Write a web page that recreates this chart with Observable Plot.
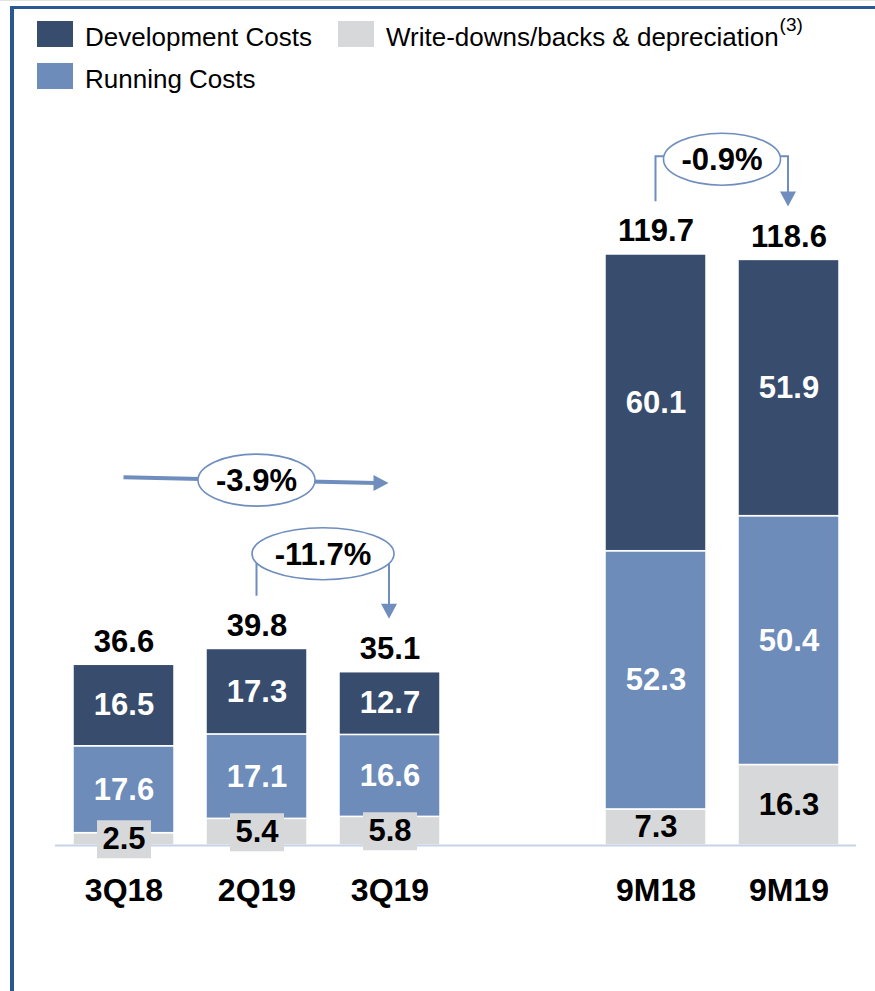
<!DOCTYPE html>
<html>
<head>
<meta charset="utf-8">
<script src="https://cdn.jsdelivr.net/npm/d3@7"></script>
<script src="https://cdn.jsdelivr.net/npm/@observablehq/plot@0.6"></script>
<style>
  html, body { margin: 0; padding: 0; background: #fff; }
  #page { position: relative; width: 875px; height: 991px; overflow: hidden;
          font-family: "Liberation Sans", Arial, sans-serif; }
  .topline { position: absolute; left: 0; top: 0; width: 875px; height: 1px; background: #e2e2e2; z-index: 5; }
  .bt { position: absolute; left: 10px; top: 6px; width: 865px; height: 3px; background: #2b5792; z-index: 5; }
  .bl { position: absolute; left: 10px; top: 6px; width: 4px; height: 985px; background: #2b5792; z-index: 5; }
  #legend { position: relative; height: 100px; }
  .sw { position: absolute; width: 36px; height: 26px; }
  .lt { position: absolute; font-size: 26px; line-height: 26px; color: #000; white-space: nowrap; }
  .lt sup { font-size: 19px; line-height: 0; vertical-align: 15px; margin-left: 1px; }
  #chart { position: relative; height: 891px; }
  #chart svg { overflow: visible; }
</style>
</head>
<body>
<div id="page">
  <div class="topline"></div>
  <div class="bt"></div>
  <div class="bl"></div>
  <div id="legend"></div>
  <div id="chart"></div>
</div>
<script>
// ---------------- data ----------------
const periods = ["3Q18", "2Q19", "3Q19", "9M18", "9M19"];
const slots = ["3Q18", "2Q19", "3Q19", "", "9M18", "9M19"]; // "" = spacer slot
const devCosts = [16.5, 17.3, 12.7, 60.1, 51.9];
const runningCosts = [17.6, 17.1, 16.6, 52.3, 50.4];
const writeDowns = [2.5, 5.4, 5.8, 7.3, 16.3];
const totals = [36.6, 39.8, 35.1, 119.7, 118.6];
const seriesNames = ["Write-downs/backs & depreciation", "Running Costs", "Development Costs"];
const seriesColors = ["#d7d8da", "#6d8cb9", "#384d6e"];
const boxedPeriods = ["3Q18", "2Q19", "3Q19"];
const changes = [
  { label: "-3.9%", from: "3Q18", via: "2Q19", to: "3Q19", kind: "straight" },
  { label: "-11.7%", from: "2Q19", to: "3Q19", kind: "bracket" },
  { label: "-0.9%", from: "9M18", to: "9M19", kind: "bracket" }
];

// ---------------- legend ----------------
const legendItems = [
  { name: "Development Costs", color: seriesColors[2], left: 37, top: 21, sup: null },
  { name: "Write-downs/backs & depreciation", color: seriesColors[0], left: 338, top: 21, sup: "(3)" },
  { name: "Running Costs", color: seriesColors[1], left: 37, top: 63, sup: null }
];
const legend = d3.select("#legend");
legendItems.forEach(it => {
  legend.append("div").attr("class", "sw")
    .style("left", it.left + "px").style("top", it.top + "px").style("background", it.color);
  const t = legend.append("div").attr("class", "lt")
    .style("left", (it.left + 48) + "px").style("top", (it.top + 3) + "px");
  t.append("span").text(it.name);
  if (it.sup) t.append("sup").text(it.sup);
});

// ---------------- table ----------------
const rows = [];
periods.forEach((p, i) => {
  let base = 0;
  [[seriesNames[0], writeDowns[i]], [seriesNames[1], runningCosts[i]], [seriesNames[2], devCosts[i]]]
    .forEach(([s, v]) => {
      rows.push({ period: p, series: s, value: v, y1: base, y2: base + v, mid: base + v / 2 });
      base += v;
    });
});
const totalRows = periods.map((p, i) => ({ period: p, total: totals[i] }));
const totalOf = p => totals[periods.indexOf(p)];

// ---------------- layout ----------------
const W = 875, H = 891, baseY = 745, pxPerUnit = 4.9375, yMax = 140;
const font = '"Liberation Sans", Arial, sans-serif';
const lineColor = "#6f8ebd";

const boxSymbol = {
  draw(ctx) {
    ctx.moveTo(-27, -19); ctx.lineTo(27, -19); ctx.lineTo(27, 19); ctx.lineTo(-27, 19); ctx.closePath();
  }
};

function annotations(index, scales) {
  let xs = scales.x, ys = scales.y;
  let bw;
  if (typeof xs === "function") {
    bw = typeof xs.bandwidth === "function" ? xs.bandwidth() : 0;
  } else {
    const sx = scales.scales.x; bw = sx.bandwidth || 0; xs = v => sx.apply(v);
  }
  if (typeof ys !== "function") { const sy = scales.scales.y; ys = v => sy.apply(v); }
  const cx = p => xs(p) + bw / 2;
  const g = d3.create("svg:g");
  for (const c of changes) {
    const rx = c.label.length * 12.5 - 4, ry = 26;
    let ex, ey;
    if (c.kind === "straight") {
      const level = d3.max([c.from, c.via, c.to], totalOf) + 34.7;
      const x0 = cx(c.from), y0 = ys(level);
      const tipX = cx(c.to) - 1, tipY = ys(level - 1.2);
      ex = cx(c.via); ey = (y0 + tipY) / 2;
      g.append("line").attr("x1", x0).attr("y1", y0).attr("x2", tipX - 13).attr("y2", tipY)
        .attr("stroke", lineColor).attr("stroke-width", 4);
      g.append("path").attr("d", `M${tipX},${tipY}L${tipX - 15},${tipY - 8}L${tipX - 15},${tipY + 8}Z`)
        .attr("fill", lineColor);
    } else {
      const tf = totalOf(c.from), tt = totalOf(c.to);
      ex = (cx(c.from) + cx(c.to)) / 2;
      ey = ys(Math.max(tf, tt) + 19.2);
      const elbow = ey - 3;
      const fx = cx(c.from), fy = ys(tf + 10.7);
      const tx = cx(c.to) - 0.5, tipY = ys(tt + 10.7);
      g.append("path").attr("d", `M${fx},${fy}V${elbow}H${tx}V${tipY - 13}`)
        .attr("fill", "none").attr("stroke", lineColor).attr("stroke-width", 2);
      g.append("path").attr("d", `M${tx},${tipY}L${tx - 8},${tipY - 15}L${tx + 8},${tipY - 15}Z`)
        .attr("fill", lineColor);
    }
    g.append("ellipse").attr("cx", ex).attr("cy", ey).attr("rx", rx).attr("ry", ry)
      .attr("fill", "white").attr("stroke", lineColor).attr("stroke-width", 1.6);
    g.append("text").attr("x", ex).attr("y", ey + 11).attr("text-anchor", "middle")
      .attr("font-size", 31).attr("font-weight", "bold").attr("font-family", font)
      .attr("fill", "#000").text(c.label);
  }
  return g.node();
}

const chart = Plot.plot({
  width: W,
  height: H,
  marginLeft: 55,
  marginRight: 19,
  marginBottom: H - baseY,
  marginTop: baseY - yMax * pxPerUnit,
  x: { domain: slots, paddingInner: 0.243, paddingOuter: 0.1215, axis: null },
  y: { domain: [0, yMax], axis: null },
  color: { domain: seriesNames, range: seriesColors },
  style: { fontFamily: font, background: "transparent", overflow: "visible" },
  marks: [
    Plot.barY(rows, { x: "period", y1: "y1", y2: "y2", fill: "series", stroke: "white", strokeWidth: 1.5 }),
    Plot.ruleY([0], { stroke: "#c6d3e7", strokeWidth: 2 }),
    Plot.dot(rows.filter(d => d.series === seriesNames[0] && boxedPeriods.includes(d.period)),
      { x: "period", y: "mid", symbol: boxSymbol, fill: "#d7d8da", stroke: "none", r: 5 }),
    Plot.text(rows.filter(d => d.series !== seriesNames[0]),
      { x: "period", y: "mid", text: d => d.value.toFixed(1), fill: "white", fontSize: 31, fontWeight: "bold" }),
    Plot.text(rows.filter(d => d.series === seriesNames[0]),
      { x: "period", y: "mid", text: d => d.value.toFixed(1), fill: "black", fontSize: 31, fontWeight: "bold" }),
    Plot.text(totalRows,
      { x: "period", y: "total", text: d => d.total.toFixed(1), dy: -13, lineAnchor: "bottom",
        fill: "black", fontSize: 31, fontWeight: "bold" }),
    Plot.text(periods,
      { x: d => d, y: () => 0, text: d => d, dy: 55, lineAnchor: "bottom",
        fill: "black", fontSize: 32, fontWeight: "bold" }),
    annotations
  ]
});
document.getElementById("chart").appendChild(chart);
</script>
</body>
</html>
